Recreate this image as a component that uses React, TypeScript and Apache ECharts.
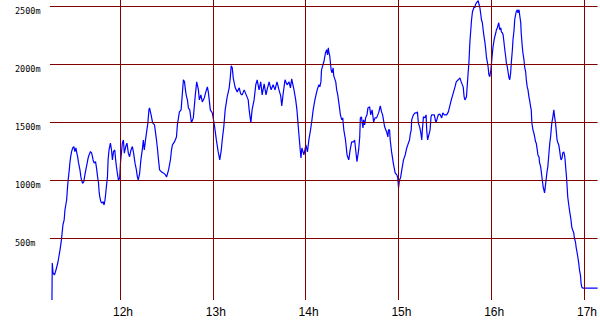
import React, { useEffect, useRef } from "react";
import * as echarts from "echarts";

// Flight altitude trace: [time in minutes since midnight, altitude in metres]
const track: [number, number][] = [
  [676.0, -30], [676.2, 287], [676.7, 201], [677.6, 184], [678.6, 227], [679.9, 296], [681.2, 399], [682.1, 485],
  [683.1, 615], [683.9, 658], [684.4, 744], [685.5, 830], [686.1, 945], [686.5, 1003], [687.2, 1089], [687.6, 1149],
  [688.1, 1201], [688.7, 1247], [689.4, 1278], [690.2, 1290], [690.8, 1247], [691.5, 1278], [691.9, 1247], [692.6, 1203],
  [693.2, 1149], [694.1, 1089], [694.7, 1031], [695.1, 1003], [695.8, 974], [696.6, 988], [697.3, 1046], [697.9, 1089],
  [698.8, 1149], [699.4, 1192], [700.0, 1218], [700.9, 1247], [701.6, 1235], [702.2, 1203], [702.6, 1175], [703.3, 1149],
  [704.2, 1160], [704.8, 1106], [705.5, 1031], [706.1, 977], [706.5, 902], [706.9, 859], [707.6, 816], [708.4, 802],
  [709.1, 816], [709.7, 787], [710.3, 830], [710.8, 888], [711.2, 945], [711.9, 1031], [712.3, 1175], [712.9, 1261],
  [713.8, 1319], [714.5, 1261], [715.1, 1175], [715.8, 1247], [716.6, 1261], [717.2, 1175], [717.7, 1117], [718.3, 1060],
  [719.0, 1003], [719.8, 1017], [720.3, 1147], [720.9, 1233], [721.5, 1319], [722.2, 1347], [722.8, 1233], [723.7, 1290],
  [724.5, 1319], [725.4, 1233], [726.2, 1203], [727.1, 1261], [728.0, 1290], [728.8, 1233], [729.7, 1147], [730.6, 1089],
  [731.2, 1031], [731.8, 1003], [732.7, 1060], [733.5, 1175], [734.4, 1261], [735.1, 1347], [735.7, 1261], [736.5, 1347],
  [737.4, 1434], [738.0, 1491], [738.7, 1606], [739.1, 1623], [740.1, 1563], [741.1, 1494], [742.3, 1477], [743.6, 1347],
  [744.3, 1261], [744.9, 1175], [745.6, 1089], [746.8, 1072], [748.1, 1063], [749.4, 1046], [750.1, 1028], [751.4, 1089],
  [752.6, 1175], [753.3, 1261], [753.9, 1304], [755.2, 1330], [756.5, 1373], [757.1, 1477], [758.4, 1589], [759.5, 1606],
  [761.0, 1865], [761.7, 1847], [762.3, 1778], [762.9, 1727], [763.6, 1692], [764.2, 1623], [765.1, 1606], [766.2, 1494],
  [767.4, 1537], [768.7, 1735], [769.6, 1847], [770.7, 1778], [771.3, 1692], [772.3, 1735], [773.2, 1675], [774.5, 1709],
  [775.5, 1761], [776.5, 1804], [777.1, 1761], [777.7, 1692], [778.4, 1606], [779.7, 1579], [781.0, 1477], [782.3, 1347],
  [783.5, 1244], [784.5, 1175], [785.5, 1261], [786.1, 1347], [787.1, 1460], [788.0, 1606], [789.3, 1718], [790.6, 1796],
  [791.3, 1882], [791.9, 1985], [792.6, 1968], [793.2, 1882], [794.5, 1796], [795.8, 1761], [797.1, 1796], [798.0, 1744],
  [799.0, 1735], [800.3, 1778], [801.6, 1735], [802.9, 1692], [803.5, 1606], [804.6, 1494], [805.4, 1606], [806.7, 1692],
  [807.8, 1822], [808.7, 1865], [809.9, 1778], [811.0, 1847], [811.9, 1735], [813.2, 1830], [814.4, 1735], [815.1, 1778],
  [816.4, 1847], [817.7, 1778], [819.0, 1822], [820.2, 1778], [821.5, 1847], [822.8, 1778], [823.9, 1727], [824.6, 1640],
  [825.4, 1735], [826.7, 1865], [828.0, 1822], [829.3, 1847], [830.2, 1796], [831.0, 1873], [831.8, 1822], [832.5, 1778],
  [833.6, 1692], [834.4, 1606], [835.7, 1390], [837.0, 1192], [837.6, 1278], [838.9, 1218], [840.2, 1304], [841.2, 1244],
  [842.1, 1347], [843.2, 1434], [844.1, 1520], [844.9, 1606], [846.0, 1692], [847.5, 1778], [848.6, 1822], [849.2, 1804],
  [849.9, 1847], [850.3, 1951], [851.8, 2020], [852.9, 2098], [853.6, 2124], [854.2, 2080], [854.7, 2141], [855.0, 2106],
  [855.6, 2072], [856.5, 1951], [857.1, 1925], [857.8, 1968], [858.2, 1899], [859.5, 1847], [860.1, 1778], [860.8, 1735],
  [861.5, 1666], [862.1, 1606], [862.5, 1563], [863.4, 1520], [864.0, 1537], [864.7, 1434], [865.8, 1347], [866.8, 1218],
  [867.9, 1175], [868.8, 1261], [869.8, 1330], [871.1, 1330], [871.7, 1347], [872.4, 1261], [873.2, 1160], [874.3, 1261],
  [875.0, 1373], [875.4, 1537], [876.1, 1545], [877.1, 1451], [877.5, 1520], [878.2, 1477], [878.8, 1537], [879.7, 1563],
  [880.3, 1623], [881.4, 1632], [882.1, 1563], [883.0, 1606], [884.0, 1503], [884.9, 1537], [885.9, 1537], [887.2, 1580],
  [888.3, 1640], [889.1, 1589], [889.8, 1563], [891.1, 1460], [892.4, 1416], [893.2, 1373], [893.6, 1434], [894.3, 1434],
  [894.7, 1347], [895.6, 1244], [896.9, 1132], [897.9, 1063], [899.0, 1046], [899.6, 1020], [900.1, 934], [900.7, 1003],
  [901.4, 1020], [902.2, 1089], [903.3, 1175], [904.4, 1218], [905.4, 1278], [906.5, 1322], [907.2, 1347], [907.6, 1390],
  [908.3, 1434], [908.6, 1520], [909.7, 1563], [910.8, 1580], [911.8, 1580], [912.3, 1589], [912.9, 1494], [913.9, 1451],
  [914.7, 1390], [915.1, 1347], [915.5, 1434], [916.2, 1546], [917.1, 1537], [917.9, 1563], [918.3, 1434], [918.9, 1347],
  [919.7, 1390], [920.5, 1434], [921.1, 1546], [921.5, 1563], [923.2, 1563], [924.3, 1494], [925.2, 1537], [925.8, 1563],
  [926.8, 1571], [928.0, 1537], [928.7, 1580], [929.7, 1563], [931.2, 1563], [932.3, 1589], [934.2, 1692], [935.5, 1753],
  [936.6, 1804], [937.4, 1847], [938.7, 1865], [939.8, 1882], [940.6, 1847], [941.9, 1804], [942.5, 1718], [943.0, 1692],
  [944.0, 1718], [945.1, 1925], [945.6, 2011], [946.2, 2184], [947.3, 2382], [947.9, 2451], [949.0, 2494], [949.4, 2485],
  [949.8, 2511], [950.5, 2529], [951.1, 2537], [951.6, 2546], [952.2, 2511], [952.7, 2485], [953.3, 2425], [953.7, 2382],
  [954.3, 2356], [954.8, 2296], [955.4, 2235], [955.9, 2192], [956.5, 2124], [956.9, 2063], [957.6, 2011], [958.0, 1977],
  [958.5, 1908], [959.1, 1891], [959.8, 1951], [960.2, 2011], [960.8, 2098], [961.2, 2149], [961.9, 2210], [962.3, 2235],
  [963.0, 2270], [963.4, 2296], [964.0, 2313], [964.5, 2339], [964.9, 2356], [965.5, 2296], [966.2, 2313], [966.6, 2278],
  [967.2, 2270], [967.7, 2253], [968.3, 2184], [968.8, 2124], [969.4, 2063], [969.8, 2011], [970.4, 1977], [970.9, 1934],
  [971.5, 1882], [972.0, 1865], [972.6, 1925], [973.0, 2011], [973.7, 2124], [974.1, 2210], [974.8, 2296], [975.2, 2382],
  [975.8, 2425], [976.2, 2451], [976.9, 2468], [977.3, 2442], [978.0, 2468], [978.4, 2425], [979.1, 2356], [979.4, 2270],
  [980.1, 2149], [980.5, 2098], [981.2, 2037], [981.6, 1977], [982.3, 1934], [982.7, 1865], [983.3, 1804], [983.8, 1778],
  [984.4, 1718], [984.8, 1692], [985.5, 1632], [985.9, 1606], [986.3, 1494], [987.0, 1434], [987.6, 1407], [988.1, 1373],
  [988.7, 1330], [989.1, 1322], [989.8, 1261], [990.2, 1218], [990.9, 1201], [991.3, 1149], [992.0, 1115], [992.4, 1072],
  [992.8, 1028], [993.2, 985], [993.6, 942], [994.1, 916], [994.5, 891], [994.9, 934], [995.5, 1003], [996.0, 1063],
  [996.6, 1115], [997.1, 1192], [997.5, 1261], [997.9, 1322], [998.4, 1373], [998.8, 1434], [999.2, 1494], [999.9, 1546],
  [1000.5, 1606], [1001.0, 1546], [1001.6, 1494], [1002.0, 1434], [1002.6, 1347], [1003.1, 1322], [1003.7, 1304], [1004.2, 1261],
  [1004.8, 1201], [1005.2, 1175], [1005.8, 1192], [1006.3, 1235], [1006.9, 1244], [1007.4, 1218], [1007.8, 1175], [1008.2, 1106],
  [1008.7, 1028], [1009.1, 942], [1009.5, 856], [1010.0, 804], [1010.6, 744], [1011.3, 684], [1011.6, 658], [1012.1, 597],
  [1012.7, 572], [1013.4, 546], [1013.8, 503], [1014.5, 468], [1014.9, 425], [1015.5, 382], [1016.0, 339], [1016.6, 287],
  [1017.1, 227], [1017.7, 184], [1018.1, 115], [1018.6, 80], [1019.2, 72], [1028.8, 72],
];

// Axis ticks
const hourTicks = [720, 780, 840, 900, 960, 1020]; // 12h .. 17h in minutes
const altitudeTicks = [500, 1000, 1500, 2000, 2500];
const timeMin = 674.74;
const timeMax = 1028.8;
const altMin = -31;
const altMax = 2552;

export default function App() {
  const ref = useRef<HTMLDivElement>(null);
  useEffect(() => {
    if (!ref.current) return;
    const chart = echarts.init(ref.current, null, { renderer: "svg" });
    const gridColor = "#800000";
    chart.setOption({
      animation: false,
      backgroundColor: "#ffffff",
      grid: { left: 50, right: 0, top: 0, bottom: 30, containLabel: false },
      xAxis: {
        type: "value",
        min: timeMin,
        max: timeMax,
        axisLine: { show: false },
        axisTick: { show: false },
        splitLine: { show: false },
        axisLabel: {
          customValues: hourTicks,
          formatter: (v: number) => `${Math.round(v / 60)}h`,
          color: "#000",
          fontFamily: "Liberation Sans",
          fontSize: 12,
          margin: 6,
          padding: [0, 0, 0, 6],
        },
      },
      yAxis: {
        type: "value",
        min: altMin,
        max: altMax,
        axisLine: { show: false },
        axisTick: { show: false },
        splitLine: { show: false },
        axisLabel: {
          customValues: altitudeTicks,
          formatter: (v: number) => `${v}m`,
          color: "#000",
          fontFamily: "DejaVu Sans Mono",
          fontSize: 8.5,
          align: "left",
          verticalAlign: "top",
          margin: 35,
        },
      },
      series: [
        {
          type: "line",
          data: [],
          z: 1,
          silent: true,
          markLine: {
            silent: true,
            symbol: ["none", "none"],
            label: { show: false },
            lineStyle: { color: gridColor, width: 1, type: "solid" },
            emphasis: { disabled: true },
            data: [
              ...hourTicks.map((t) => ({ xAxis: t })),
              ...altitudeTicks.map((a) => ({ yAxis: a })),
            ],
          },
        },
        {
          type: "line",
          data: track,
          z: 3,
          showSymbol: false,
          symbol: "none",
          silent: true,
          lineStyle: { color: "#0000ff", width: 1.2 },
        },
      ],
    });
    return () => chart.dispose();
  }, []);
  return (
    <div
      ref={ref}
      style={{ position: "fixed", left: 0, top: 0, width: 600, height: 330 }}
    />
  );
}
